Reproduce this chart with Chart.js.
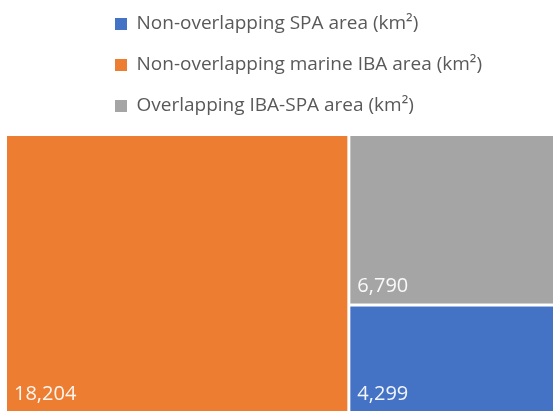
<!DOCTYPE html>
<html>
<head>
<meta charset="utf-8">
<script src="https://cdn.jsdelivr.net/npm/chart.js@4.4.1/dist/chart.umd.min.js"></script>
<style>
	html, body { margin: 0; padding: 0; background: #fff; }
	#wrap { width: 553px; height: 411px; position: relative; overflow: hidden; }
	/* the original is cropped a little on the right and bottom */
	#inner { width: 558px; height: 413px; position: absolute; left: 0; top: 0; }
</style>
</head>
<body>
<div id="wrap"><div id="inner"><canvas id="cnvArea"></canvas></div></div>
<script>
// series, in legend order
var etiquetas = ["Non-overlapping SPA area (km²)", "Non-overlapping marine IBA area (km²)", "Overlapping IBA-SPA area (km²)"];
var areas = [4299, 18204, 6790];
var colores = ["#4472C4", "#ED7D31", "#A5A5A5"];

var total = areas.reduce(function(a, b){ return a + b; }, 0);

// treemap: biggest block gets a full-height column, the rest are stacked in the other column
function calcBloques(){
	var orden = areas.map(function(v, i){ return i; }).sort(function(a, b){ return areas[b] - areas[a]; });
	var bloques = [];
	var primero = orden[0];
	bloques.push({i: primero, x0: 0, x1: areas[primero], y0: 0, y1: 1});
	var resto = total - areas[primero];
	var techo = 1;
	for (var k = 1; k < orden.length; k++) {
		var idx = orden[k];
		var alto = areas[idx] / resto;
		bloques.push({i: idx, x0: areas[primero], x1: total, y0: techo - alto, y1: techo});
		techo -= alto;
	}
	return bloques;
}

var treemapPlugin = {
	id: "treemap",
	afterLayout: function(chart){
		// legend rows are left aligned at the same x, like the original
		var lg = chart.legend;
		var dx = 115 - (lg.left + 22);
		var dy = -9;
		lg.left += dx; lg.right += dx;
		lg.top += dy; lg.bottom += dy;
	},
	afterDatasetsDraw: function(chart){
		var ctx = chart.ctx;
		var x = chart.scales.x, y = chart.scales.y;
		var hueco = 1.5;
		ctx.save();
		calcBloques().forEach(function(b){
			var left = x.getPixelForValue(b.x0) + hueco;
			var right = x.getPixelForValue(b.x1) - hueco;
			var top = y.getPixelForValue(b.y1) + hueco;
			var bottom = y.getPixelForValue(b.y0) - hueco;
			ctx.fillStyle = colores[b.i];
			ctx.fillRect(left, top, right - left, bottom - top);
			ctx.fillStyle = "rgba(255,255,255,0.93)";
			ctx.font = "20px 'Open Sans'";
			ctx.textAlign = "left";
			ctx.textBaseline = "alphabetic";
			ctx.fillText(areas[b.i].toLocaleString("en-US"), left + 7, bottom - 12);
		});
		ctx.restore();
	}
};

var datos = {
	datasets: etiquetas.map(function(et, i){
		return {
			label: et,
			data: [],
			backgroundColor: colores[i],
			borderColor: colores[i],
			borderWidth: 0
		};
	})
};

new Chart(document.getElementById("cnvArea").getContext("2d"), {
	type: "scatter",
	data: datos,
	options: {
		responsive: true,
		maintainAspectRatio: false,
		animation: false,
		layout: { padding: { top: 1.5, left: 5.5, right: 0, bottom: 0 } },
		scales: {
			x: { type: "linear", min: 0, max: total, display: false },
			y: { type: "linear", min: 0, max: 1, display: false }
		},
		plugins: {
			tooltip: { enabled: false },
			legend: {
				position: "top",
				align: "start",
				labels: {
					boxWidth: 12,
					boxHeight: 12,
					padding: 22,
					color: "#595959",
					font: { family: "'Open Sans'", size: 19 }
				}
			}
		}
	},
	plugins: [treemapPlugin]
});
</script>
</body>
</html>
